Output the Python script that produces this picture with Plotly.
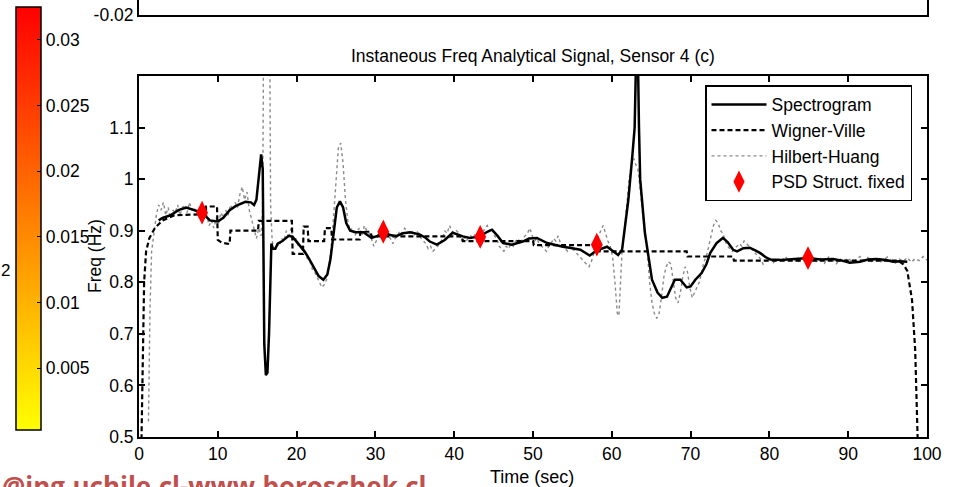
import plotly.graph_objects as go

# ---------------- data ----------------
spec_t = [2.5, 3.0, 4.0, 5.0, 6.0, 7.0, 8.0, 9.0, 10.0, 10.7, 11.5, 12.3, 13.5, 14.2, 14.6, 14.9, 15.2, 15.5,
          15.7, 15.8, 15.9, 16.1, 16.3, 16.5, 16.7, 16.8, 17.0, 17.3, 17.6, 18.2, 19.0, 19.5, 20.2, 21.0, 21.5,
          22.2, 22.8, 23.4, 23.9, 24.3, 24.7, 25.1, 25.5, 25.9, 26.3, 26.8, 27.5, 28.5, 29.5, 30.3, 31.0, 32.0,
          32.7, 33.5, 34.4, 35.6, 36.3, 36.9, 37.8, 38.8, 39.8, 40.5, 41.1, 42.0, 43.3, 44.2, 44.8, 45.5, 46.2,
          47.3, 48.7, 49.5, 50.5, 51.8, 52.8, 53.8, 55.0, 56.0, 57.2, 58.1, 59.4, 60.2, 60.8, 61.3, 61.6, 62.1,
          62.6, 62.9, 63.1, 63.3, 63.45, 63.6, 64.2, 64.6, 65.1, 65.8, 66.4, 67.0, 67.5, 68.0, 68.7, 69.5, 70.0,
          70.6, 71.4, 72.0, 72.5, 73.3, 74.1, 74.7, 75.4, 75.9, 76.7, 77.5, 78.2, 78.8, 79.5, 80.1, 81.5, 83.0,
          84.9, 86.5, 88.1, 89.2, 90.2, 91.5, 92.5, 93.6, 94.8, 95.7, 96.5, 97.5]
spec_f = [0.92, 0.925, 0.93, 0.94, 0.945, 0.94, 0.935, 0.92, 0.918, 0.925, 0.94, 0.948, 0.956, 0.955, 0.95,
          0.96, 1.0, 1.048, 1.02, 0.85, 0.68, 0.62, 0.625, 0.7, 0.85, 0.875, 0.865, 0.865, 0.875, 0.88, 0.89,
          0.888, 0.875, 0.86, 0.848, 0.83, 0.812, 0.805, 0.815, 0.845, 0.9, 0.945, 0.957, 0.945, 0.915, 0.9,
          0.897, 0.897, 0.886, 0.89, 0.897, 0.891, 0.89, 0.895, 0.897, 0.893, 0.887, 0.879, 0.873, 0.882, 0.896,
          0.892, 0.889, 0.886, 0.889, 0.898, 0.902, 0.89, 0.876, 0.873, 0.879, 0.885, 0.886, 0.876, 0.872, 0.869,
          0.866, 0.863, 0.852, 0.862, 0.869, 0.86, 0.853, 0.863, 0.9, 0.96, 1.044, 1.1, 1.25, 1.25, 1.1, 1.0,
          0.896, 0.857, 0.805, 0.78, 0.77, 0.772, 0.79, 0.805, 0.805, 0.79, 0.792, 0.805, 0.818, 0.835, 0.857,
          0.876, 0.886, 0.878, 0.863, 0.86, 0.866, 0.867, 0.862, 0.857, 0.849, 0.844, 0.843, 0.845, 0.847, 0.844,
          0.845, 0.842, 0.838, 0.84, 0.844, 0.845, 0.843, 0.84, 0.841, 0.84]

wv_t = [0.3, 0.4, 0.5, 0.65, 0.9, 1.3, 2.0, 3.0, 4.5, 6.0, 8.5, 8.5, 9.9, 10.0, 10.5, 11.5, 11.6, 15.1, 15.2,
        19.4, 19.5, 20.8, 20.9, 21.4, 21.5, 23.5, 23.6, 24.4, 24.5, 28.0, 28.1, 29.4, 29.5, 41.0, 41.1, 50.0,
        50.1, 58.4, 58.5, 69.5, 69.6, 75.4, 75.5, 96.3, 97.0, 97.5, 98.1, 98.5, 98.7, 98.9]
wv_f = [0.48, 0.6, 0.7, 0.8, 0.86, 0.885, 0.905, 0.92, 0.93, 0.931, 0.932, 0.947, 0.947, 0.882, 0.877, 0.874,
        0.9, 0.9, 0.919, 0.919, 0.855, 0.855, 0.908, 0.908, 0.88, 0.88, 0.905, 0.905, 0.883, 0.883, 0.898, 0.898,
        0.889, 0.889, 0.88, 0.88, 0.872, 0.872, 0.86, 0.86, 0.85, 0.85, 0.842, 0.842, 0.835, 0.822, 0.766, 0.669,
        0.55, 0.45]

hh_t = [1.2, 1.4, 1.6, 1.9, 2.2, 2.5, 2.8, 3.1, 3.4, 3.7, 4.0, 4.3, 4.6, 4.9, 5.2, 5.5, 5.8, 6.1, 6.4, 6.7, 7.0,
        7.3, 7.6, 8.0, 8.3, 8.6, 8.9, 9.2, 9.5, 9.8, 10.1, 10.4, 10.7, 11.0, 11.3, 11.6, 11.9, 12.2, 12.5, 12.8,
        13.1, 13.4, 13.7, 14.0, 14.3, 14.6, 14.9, 15.2, 15.5, 15.7, 15.8, 16.6, 16.7, 16.9, 17.2, 17.5, 17.8,
        18.1, 18.4, 18.7, 19.0, 19.3, 19.6, 19.9, 20.2, 20.5, 20.8, 21.1, 21.4, 21.7, 22.0, 22.3, 22.6, 22.9,
        23.2, 23.5, 23.8, 24.1, 24.4, 24.7, 25.0, 25.3, 25.6, 25.9, 26.2, 26.5, 26.8, 27.1, 27.4, 27.7, 28.0,
        28.3, 28.6, 28.9, 29.2, 29.5, 29.8, 30.1, 30.4, 30.7, 31.0, 31.3, 31.6, 31.9, 32.2, 32.5, 32.8, 33.1,
        33.4, 33.7, 34.0, 34.3, 34.6, 34.9, 35.2, 35.5, 35.8, 36.1, 36.4, 36.7, 37.0, 37.3, 37.6, 37.9, 38.2,
        38.5, 38.8, 39.1, 39.4, 39.7, 40.0, 40.3, 40.6, 40.9, 41.2, 41.5, 41.8, 42.1, 42.4, 42.7, 43.0, 43.3,
        43.6, 43.9, 44.2, 44.5, 44.8, 45.1, 45.4, 45.7, 46.0, 46.3, 46.6, 46.9, 47.2, 47.5, 47.8, 48.1, 48.4,
        48.7, 49.0, 49.3, 49.6, 49.9, 50.2, 50.5, 50.8, 51.1, 51.4, 51.7, 52.0, 52.3, 52.6, 52.9, 53.2, 53.5,
        53.8, 54.1, 54.4, 54.7, 55.0, 55.3, 55.6, 55.9, 56.2, 56.5, 56.8, 57.1, 57.4, 57.7, 58.0, 58.3, 58.6,
        58.9, 59.2, 59.5, 59.8, 60.1, 60.4, 60.7, 60.9, 61.1, 61.3, 61.6, 61.9, 62.2, 62.5, 62.8, 63.0, 63.3,
        63.6, 63.9, 64.2, 64.5, 64.8, 65.1, 65.4, 65.7, 66.0, 66.3, 66.6, 66.9, 67.2, 67.5, 67.8, 68.1, 68.4,
        68.7, 69.0, 69.3, 69.6, 69.9, 70.2, 70.5, 70.8, 71.1, 71.4, 71.7, 72.0, 72.3, 72.6, 72.9, 73.2, 73.5,
        73.8, 74.1, 74.4, 74.7, 75.0, 75.3, 75.6, 75.9, 76.2, 76.5, 76.8, 77.1, 77.4, 77.7, 78.0, 78.3, 78.6,
        78.9, 79.2, 79.5, 80.0, 80.5, 81.0, 81.5, 82.0, 82.5, 83.0, 83.5, 84.0, 84.5, 85.0, 85.5, 86.0, 86.5,
        87.0, 87.5, 88.0, 88.5, 89.0, 89.5, 90.0, 90.5, 91.0, 91.5, 92.0, 92.5, 93.0, 93.5, 94.0, 94.5, 95.0,
        95.5, 96.0, 96.5, 97.0, 97.5, 98.0, 98.5, 99.0, 99.5, 100.0]
hh_f = [0.53, 0.75, 0.86, 0.9, 0.93, 0.95, 0.94, 0.955, 0.93, 0.945, 0.925, 0.94, 0.935, 0.95, 0.93, 0.945,
        0.95, 0.935, 0.955, 0.94, 0.945, 0.93, 0.94, 0.935, 0.925, 0.93, 0.91, 0.92, 0.905, 0.925, 0.915, 0.935,
        0.925, 0.94, 0.93, 0.95, 0.94, 0.955, 0.945, 0.97, 0.985, 0.96, 0.975, 0.94, 0.92, 0.9, 0.885, 0.905,
        0.89, 0.95, 1.25, 1.25, 0.95, 0.88, 0.86, 0.875, 0.87, 0.885, 0.88, 0.9, 0.885, 0.905, 0.88, 0.885,
        0.87, 0.87, 0.86, 0.855, 0.845, 0.84, 0.825, 0.82, 0.81, 0.8, 0.79, 0.795, 0.805, 0.83, 0.87, 0.93, 1.0,
        1.06, 1.07, 1.03, 0.96, 0.92, 0.9, 0.905, 0.89, 0.9, 0.905, 0.89, 0.91, 0.9, 0.895, 0.885, 0.87, 0.88,
        0.895, 0.91, 0.92, 0.905, 0.89, 0.885, 0.875, 0.885, 0.89, 0.9, 0.895, 0.905, 0.9, 0.895, 0.9, 0.89,
        0.9, 0.895, 0.885, 0.88, 0.875, 0.865, 0.87, 0.86, 0.865, 0.87, 0.875, 0.885, 0.9, 0.895, 0.91, 0.9,
        0.895, 0.9, 0.895, 0.88, 0.89, 0.88, 0.885, 0.89, 0.885, 0.895, 0.89, 0.9, 0.895, 0.905, 0.91, 0.9,
        0.905, 0.89, 0.885, 0.87, 0.865, 0.86, 0.87, 0.865, 0.875, 0.87, 0.88, 0.885, 0.875, 0.885, 0.89, 0.895,
        0.905, 0.89, 0.88, 0.885, 0.875, 0.87, 0.865, 0.86, 0.87, 0.875, 0.885, 0.88, 0.89, 0.875, 0.87, 0.865,
        0.86, 0.87, 0.865, 0.86, 0.855, 0.85, 0.845, 0.84, 0.835, 0.83, 0.84, 0.855, 0.875, 0.89, 0.9, 0.91,
        0.895, 0.88, 0.87, 0.85, 0.8, 0.74, 0.735, 0.8, 0.86, 0.9, 0.95, 1.0, 1.03, 1.04, 1.03, 1.02, 0.98,
        0.93, 0.89, 0.86, 0.8, 0.76, 0.74, 0.73, 0.74, 0.77, 0.81, 0.83, 0.84, 0.835, 0.8, 0.77, 0.76, 0.78,
        0.81, 0.83, 0.82, 0.79, 0.77, 0.78, 0.79, 0.8, 0.82, 0.84, 0.85, 0.87, 0.895, 0.91, 0.92, 0.915, 0.9,
        0.895, 0.88, 0.87, 0.865, 0.86, 0.865, 0.87, 0.875, 0.87, 0.88, 0.875, 0.87, 0.865, 0.86, 0.855, 0.85,
        0.845, 0.835, 0.84, 0.848, 0.838, 0.846, 0.84, 0.85, 0.841, 0.847, 0.838, 0.845, 0.851, 0.842, 0.848,
        0.84, 0.846, 0.837, 0.849, 0.843, 0.836, 0.845, 0.84, 0.847, 0.839, 0.844, 0.85, 0.842, 0.848, 0.84,
        0.846, 0.838, 0.843, 0.849, 0.842, 0.837, 0.845, 0.841, 0.848, 0.839, 0.846, 0.842, 0.85, 0.843]

psd_t = [8.0, 31.0, 43.3, 58.1, 84.9]
psd_f = [0.935, 0.898, 0.888, 0.873, 0.847]

y_ticks = [0.5, 0.6, 0.7, 0.8, 0.9, 1.0, 1.1]
y_ticklabels = ["0.5", "0.6", "0.7", "0.8", "0.9", "1", "1.1"]
x_ticks = [0, 10, 20, 30, 40, 50, 60, 70, 80, 90, 100]

cbar_min, cbar_max = 0.0003, 0.0325
cbar_ticks = [0.005, 0.01, 0.015, 0.02, 0.025, 0.03]
cbar_ticklabels = ["0.005", "0.01", "0.015", "0.02", "0.025", "0.03"]

# ---------------- figure ----------------
FONT = "Liberation Sans, Arial, sans-serif"
W, H = 958, 487
ML, MR, MT, MB = 139, 31, 0, 50
PW, PH = W - ML - MR, H - MT - MB

def px(x):
    return (x - ML) / PW

def py(y):
    return (PH + MT - y) / PH

fig = go.Figure()

fig.add_trace(go.Scatter(x=hh_t, y=hh_f, mode="lines", name="Hilbert-Huang",
                         line=dict(color="#8a8a8a", width=1.4, dash="dot"), legendrank=3))
fig.add_trace(go.Scatter(x=wv_t, y=wv_f, mode="lines", name="Wigner-Ville",
                         line=dict(color="black", width=2.2, dash="5px,3px"), legendrank=2))
fig.add_trace(go.Scatter(x=spec_t, y=spec_f, mode="lines", name="Spectrogram",
                         line=dict(color="black", width=2.5), legendrank=1))
fig.add_trace(go.Scatter(x=psd_t, y=psd_f, mode="markers", name="PSD Struct. fixed",
                         marker=dict(symbol="diamond-tall", size=17, color="#ff0000",
                                     line=dict(width=0)), legendrank=4))

# colorbar holder trace (outside visible range)
fig.add_trace(go.Scatter(x=[50], y=[5.0], mode="markers", showlegend=False, hoverinfo="skip",
                         marker=dict(color=[cbar_min], cmin=cbar_min, cmax=cbar_max,
                                     colorscale=[[0, "#ffff00"], [1, "#ff0000"]], showscale=True,
                                     colorbar=dict(x=px(16), xanchor="left", xpad=0, ypad=0,
                                                   y=py(218.5), yanchor="middle",
                                                   len=423, lenmode="pixels", thickness=25,
                                                   outlinecolor="black", outlinewidth=1.5,
                                                   tickvals=cbar_ticks, ticktext=cbar_ticklabels,
                                                   ticks="inside", ticklen=4, tickcolor="black",
                                                   tickfont=dict(family=FONT, size=17.5, color="black")))))

# top (partial) axes
fig.add_trace(go.Scatter(x=[None], y=[None], xaxis="x2", yaxis="y2", showlegend=False))

axis_common = dict(showgrid=False, zeroline=False, showline=True, linecolor="black", linewidth=2,
                   mirror="ticks", ticks="inside", ticklen=6, tickwidth=1.5, tickcolor="black",
                   tickfont=dict(family=FONT, size=17.5, color="black"))

fig.update_layout(
    width=W, height=H,
    margin=dict(l=ML, r=MR, t=MT, b=MB),
    paper_bgcolor="white", plot_bgcolor="white",
    font=dict(family=FONT, color="black"),
    xaxis=dict(range=[0, 100], tickvals=x_ticks, anchor="y", **axis_common),
    yaxis=dict(range=[0.5, 1.2], domain=[0, py(76)], tickvals=y_ticks, ticktext=y_ticklabels,
               anchor="x", **axis_common),
    xaxis2=dict(range=[0, 100], anchor="y2", showticklabels=False, showgrid=False, zeroline=False,
                showline=True, linecolor="black", linewidth=2, mirror=False, ticks=""),
    yaxis2=dict(range=[-0.02, 0.0], domain=[py(15), 1], anchor="x2", tickvals=[-0.02],
                ticktext=["-0.02"], showgrid=False, zeroline=False, showline=True,
                linecolor="black", linewidth=2, mirror=True, ticks="",
                tickfont=dict(family=FONT, size=17.5, color="black")),
    showlegend=True,
    legend=dict(x=px(705), y=py(85), xanchor="left", yanchor="top", bgcolor="white",
                bordercolor="black", borderwidth=1.5, itemwidth=55,
                font=dict(family=FONT, size=17.5, color="black")),
)

fig.add_annotation(text="Instaneous Freq Analytical Signal, Sensor 4 (c)", x=0.5, y=py(56),
                   xref="paper", yref="paper", showarrow=False, xanchor="center", yanchor="middle",
                   font=dict(family=FONT, size=17.5, color="black"))
fig.add_annotation(text="Time (sec)", x=px(532), y=py(477), xref="paper", yref="paper",
                   showarrow=False, xanchor="center", yanchor="middle",
                   font=dict(family=FONT, size=18, color="black"))
fig.add_annotation(text="Freq (Hz)", x=px(95), y=py(256), xref="paper", yref="paper",
                   showarrow=False, xanchor="center", yanchor="middle", textangle=-90,
                   font=dict(family=FONT, size=17.5, color="black"))
fig.add_annotation(text="2", x=px(5), y=py(270), xref="paper", yref="paper",
                   showarrow=False, xanchor="center", yanchor="middle",
                   font=dict(family=FONT, size=17, color="black"))
fig.add_annotation(text="<b>@ing.uchile.cl-www.boroschek.cl</b>", x=px(0), y=py(466),
                   xref="paper", yref="paper", showarrow=False, xanchor="left", yanchor="top",
                   font=dict(family="Open Sans, Liberation Sans, sans-serif", size=26, color="#c0504d"))

fig.write_html("out.html")
